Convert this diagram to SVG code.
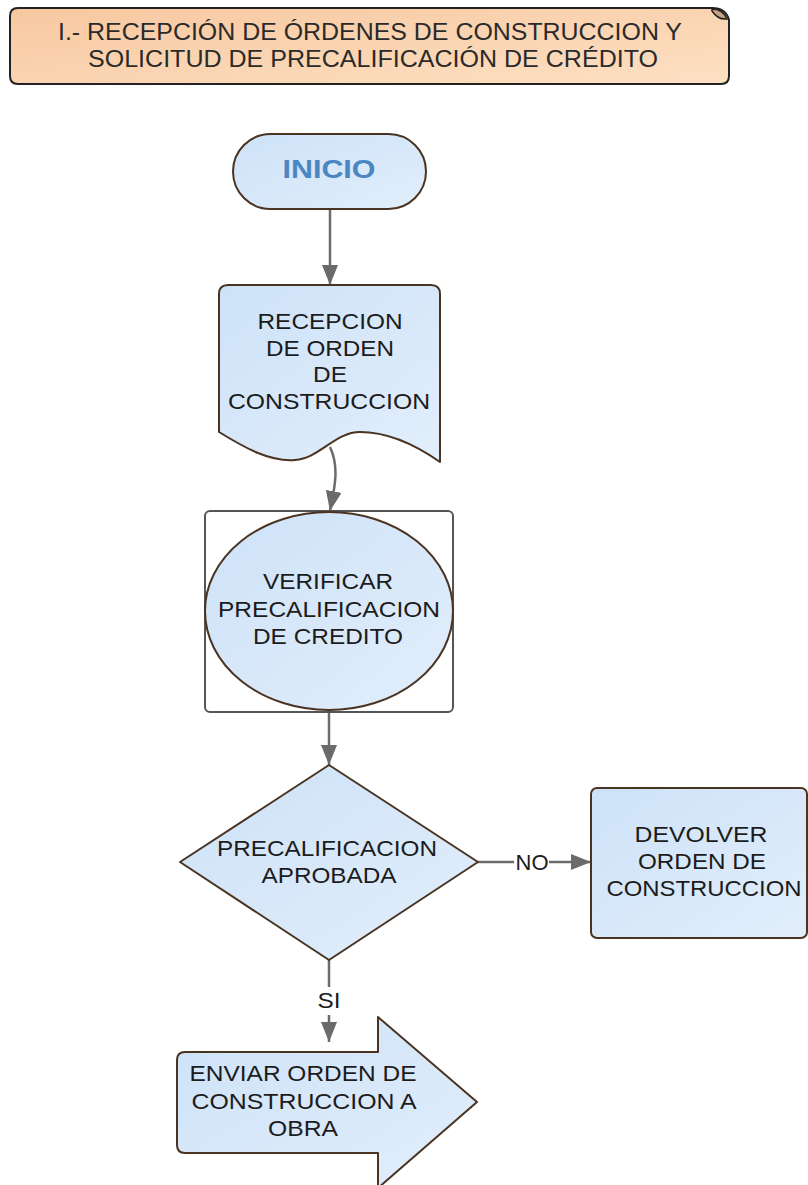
<svg xmlns="http://www.w3.org/2000/svg" width="808" height="1185" viewBox="0 0 808 1185">
  <defs>
    <linearGradient id="gTitle" x1="0" y1="0" x2="1" y2="1">
      <stop offset="0" stop-color="#f7c8a0"/>
      <stop offset="1" stop-color="#fde0c3"/>
    </linearGradient>
    <linearGradient id="gNode" x1="0" y1="0" x2="1" y2="1">
      <stop offset="0" stop-color="#cde2f8"/>
      <stop offset="1" stop-color="#e2eefb"/>
    </linearGradient>
    <marker id="arrow" markerUnits="userSpaceOnUse" markerWidth="20" markerHeight="16" refX="20" refY="8" orient="auto">
      <path d="M0,0 L20,8 L0,16 Z" fill="#6b6b6b"/>
    </marker>
    <style>
      .node { fill: url(#gNode); stroke: #4a3421; stroke-width: 2; stroke-linejoin: round; }
      .lbl { font-family: "Liberation Sans", Arial, sans-serif; font-size: 22.5px; fill: #1c1c1c; text-anchor: middle; }
      .title { font-family: "Liberation Sans", Arial, sans-serif; font-size: 24px; fill: #2a2a2a; text-anchor: middle; }
      .start { font-family: "Liberation Sans", Arial, sans-serif; font-size: 26px; font-weight: bold; fill: #4a86c2; text-anchor: middle; }
      .edge { fill: none; stroke: #6b6b6b; stroke-width: 2.5; }
    </style>
  </defs>

  <rect width="808" height="1185" fill="#ffffff"/>

  <!-- section header banner with curled corner -->
  <g id="header">
    <path d="M18,8 H712 Q726,8 729,20 V76 Q729,84 721,84 H18 Q10,84 10,76 V16 Q10,8 18,8 Z" fill="url(#gTitle)" stroke="#222" stroke-width="2"/>
    <path d="M712,9 Q723,9 727,19 Q718,20 712,11 Z" fill="#c9a083" stroke="#222" stroke-width="1.5"/>
    <text class="title" x="370" y="40" textLength="624" lengthAdjust="spacingAndGlyphs">I.- RECEPCIÓN DE ÓRDENES DE CONSTRUCCION Y</text>
    <text class="title" x="373" y="67" textLength="570" lengthAdjust="spacingAndGlyphs">SOLICITUD DE PRECALIFICACIÓN DE CRÉDITO</text>
  </g>

  <!-- connectors -->
  <g id="connectors">
    <path class="edge" d="M330,209 L330,285" marker-end="url(#arrow)"/>
    <path class="edge" d="M330,447 C340,468 334,490 330,511" marker-end="url(#arrow)"/>
    <path class="edge" d="M329,712 L329,765" marker-end="url(#arrow)"/>
    <path class="edge" d="M478,862 L514,862"/>
    <path class="edge" d="M549,862 L591,862" marker-end="url(#arrow)"/>
    <text class="lbl" x="532" y="870" textLength="33" lengthAdjust="spacingAndGlyphs">NO</text>
    <path class="edge" d="M329,960 L329,987"/>
    <path class="edge" d="M329,1015 L329,1042" marker-end="url(#arrow)"/>
    <text class="lbl" x="329" y="1008" textLength="23" lengthAdjust="spacingAndGlyphs">SI</text>
  </g>

  <!-- start terminal -->
  <g id="inicio">
    <rect class="node" x="233" y="134" width="193" height="75" rx="37.5"/>
    <text class="start" x="329" y="178" textLength="93" lengthAdjust="spacingAndGlyphs">INICIO</text>
  </g>

  <!-- document: reception of the order -->
  <g id="recepcion">
    <path class="node" d="M219,294 Q219,285 228,285 L431,285 Q440,285 440,294 L440,462 C420,448 390,432 360,432 C335,432 320,458 295,460 C270,462 245,448 219,432 Z"/>
    <text class="lbl" x="330" y="329" textLength="145" lengthAdjust="spacingAndGlyphs">RECEPCION</text>
    <text class="lbl" x="330" y="356" textLength="128" lengthAdjust="spacingAndGlyphs">DE ORDEN</text>
    <text class="lbl" x="330" y="382" textLength="34" lengthAdjust="spacingAndGlyphs">DE</text>
    <text class="lbl" x="329" y="409" textLength="202" lengthAdjust="spacingAndGlyphs">CONSTRUCCION</text>
  </g>

  <!-- credit check -->
  <g id="verificar">
    <rect x="205" y="511" width="248" height="201" rx="5" fill="#ffffff" stroke="#555" stroke-width="2"/>
    <ellipse class="node" cx="329" cy="611" rx="124" ry="99"/>
    <text class="lbl" x="328" y="589" textLength="130" lengthAdjust="spacingAndGlyphs">VERIFICAR</text>
    <text class="lbl" x="329" y="617" textLength="222" lengthAdjust="spacingAndGlyphs">PRECALIFICACION</text>
    <text class="lbl" x="328" y="644" textLength="150" lengthAdjust="spacingAndGlyphs">DE CREDITO</text>
  </g>

  <!-- decision -->
  <g id="aprobada">
    <path class="node" d="M329,765 L478,862 L329,960 L180,862 Z"/>
    <text class="lbl" x="327" y="856" textLength="220" lengthAdjust="spacingAndGlyphs">PRECALIFICACION</text>
    <text class="lbl" x="329" y="883" textLength="135" lengthAdjust="spacingAndGlyphs">APROBADA</text>
  </g>

  <!-- rejection -->
  <g id="devolver">
    <rect class="node" x="591" y="788" width="216" height="150" rx="6"/>
    <text class="lbl" x="701" y="842" textLength="133" lengthAdjust="spacingAndGlyphs">DEVOLVER</text>
    <text class="lbl" x="702" y="869" textLength="128" lengthAdjust="spacingAndGlyphs">ORDEN DE</text>
    <text class="lbl" x="704" y="896" textLength="195" lengthAdjust="spacingAndGlyphs">CONSTRUCCION</text>
  </g>

  <!-- send to site -->
  <g id="enviar">
    <path class="node" d="M185,1052 L378,1052 L378,1017 L477,1102 L378,1188 L378,1153 L185,1153 Q177,1153 177,1145 L177,1060 Q177,1052 185,1052 Z"/>
    <text class="lbl" x="303" y="1081" textLength="227" lengthAdjust="spacingAndGlyphs">ENVIAR ORDEN DE</text>
    <text class="lbl" x="304" y="1109" textLength="225" lengthAdjust="spacingAndGlyphs">CONSTRUCCION A</text>
    <text class="lbl" x="303" y="1136" textLength="70" lengthAdjust="spacingAndGlyphs">OBRA</text>
  </g>
</svg>
